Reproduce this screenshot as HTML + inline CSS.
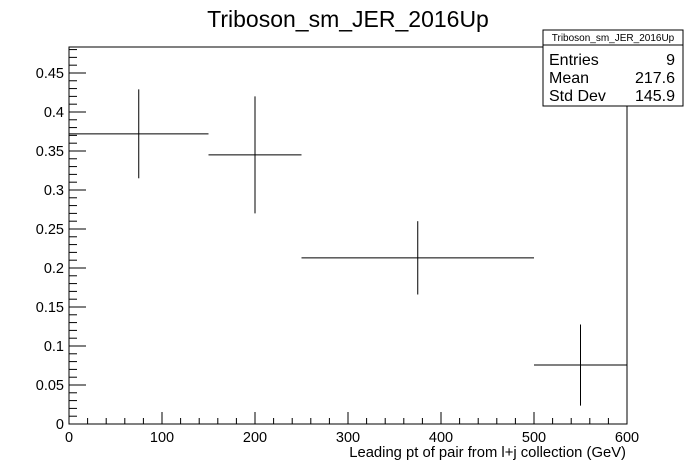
<!DOCTYPE html>
<html><head><meta charset="utf-8"><style>body{margin:0;background:#fff}svg{display:block;font-family:"Liberation Sans",sans-serif}</style></head>
<body>
<svg id="c" width="696" height="472">
<rect width="696" height="472" fill="#fff"/>
<text x="348" y="27" font-size="23" text-anchor="middle">Triboson_sm_JER_2016Up</text>
<rect x="69" y="47" width="558" height="377" fill="none" stroke="#000"/>
<g id="axes"></g><g id="marks"></g>
<text x="626" y="457" font-size="14.8" text-anchor="end">Leading pt of pair from l+j collection (GeV)</text>
<g>
<rect x="543" y="30" width="140" height="76" fill="#fff" stroke="#000"/>
<line x1="543" y1="45" x2="683" y2="45" stroke="#000"/>
<text x="613" y="41" font-size="10" text-anchor="middle">Triboson_sm_JER_2016Up</text>
<text x="549" y="65" font-size="16">Entries</text><text x="675" y="65" font-size="16" text-anchor="end">9</text>
<text x="549" y="83" font-size="16">Mean</text><text x="675" y="83" font-size="16" text-anchor="end">217.6</text>
<text x="549" y="101" font-size="16">Std Dev</text><text x="675" y="101" font-size="16" text-anchor="end">145.9</text>
</g>
</svg>
<script>
const binLo=[0,150,250,500];
const binHi=[150,250,500,600];
const values=[0.372,0.345,0.213,0.0756];
const errors=[0.057,0.075,0.047,0.052];
const xTicks=["0","100","200","300","400","500","600"];
const yTicks=["0","0.05","0.1","0.15","0.2","0.25","0.3","0.35","0.4","0.45"];
const NS="http://www.w3.org/2000/svg";
const X0=69,X1=627,Y0=424,Y1=47,XMAX=600,YMAX=0.4833;
const sx=v=>X0+v/XMAX*(X1-X0);
const sy=v=>Y0-v/YMAX*(Y0-Y1);
function mk(t,a,p){const e=document.createElementNS(NS,t);for(const k in a)e.setAttribute(k,a[k]);p.appendChild(e);return e;}
const ax=document.getElementById('axes'),mg=document.getElementById('marks');
for(let v=0;v<=600;v+=20){const maj=v%100===0;
const l=mk('line',{x1:sx(v),x2:sx(v),y1:Y0,y2:Y0-(maj?12:6),stroke:'#000'},ax);

}
xTicks.forEach(s=>{const t=mk('text',{x:sx(+s),y:Y0+18,'font-size':14.5,'text-anchor':'middle'},ax);t.textContent=s;

});
for(let i=0;i*0.01<=YMAX;i++){const v=i*0.01,maj=i%5===0;
const l=mk('line',{x1:X0,x2:X0+(maj?17:8),y1:sy(v),y2:sy(v),stroke:'#000'},ax);

}
yTicks.forEach(s=>{const t=mk('text',{x:X0-5,y:sy(+s)+5,'font-size':14.5,'text-anchor':'end'},ax);t.textContent=s;

});
values.forEach((v,i)=>{const g=mk('g',{},mg);


const c=(binLo[i]+binHi[i])/2;
mk('line',{x1:sx(binLo[i]),x2:sx(binHi[i]),y1:sy(v),y2:sy(v),stroke:'#000'},g);
mk('line',{x1:sx(c),x2:sx(c),y1:sy(v+errors[i]),y2:sy(v-errors[i]),stroke:'#000'},g);});
</script>
</body></html>
